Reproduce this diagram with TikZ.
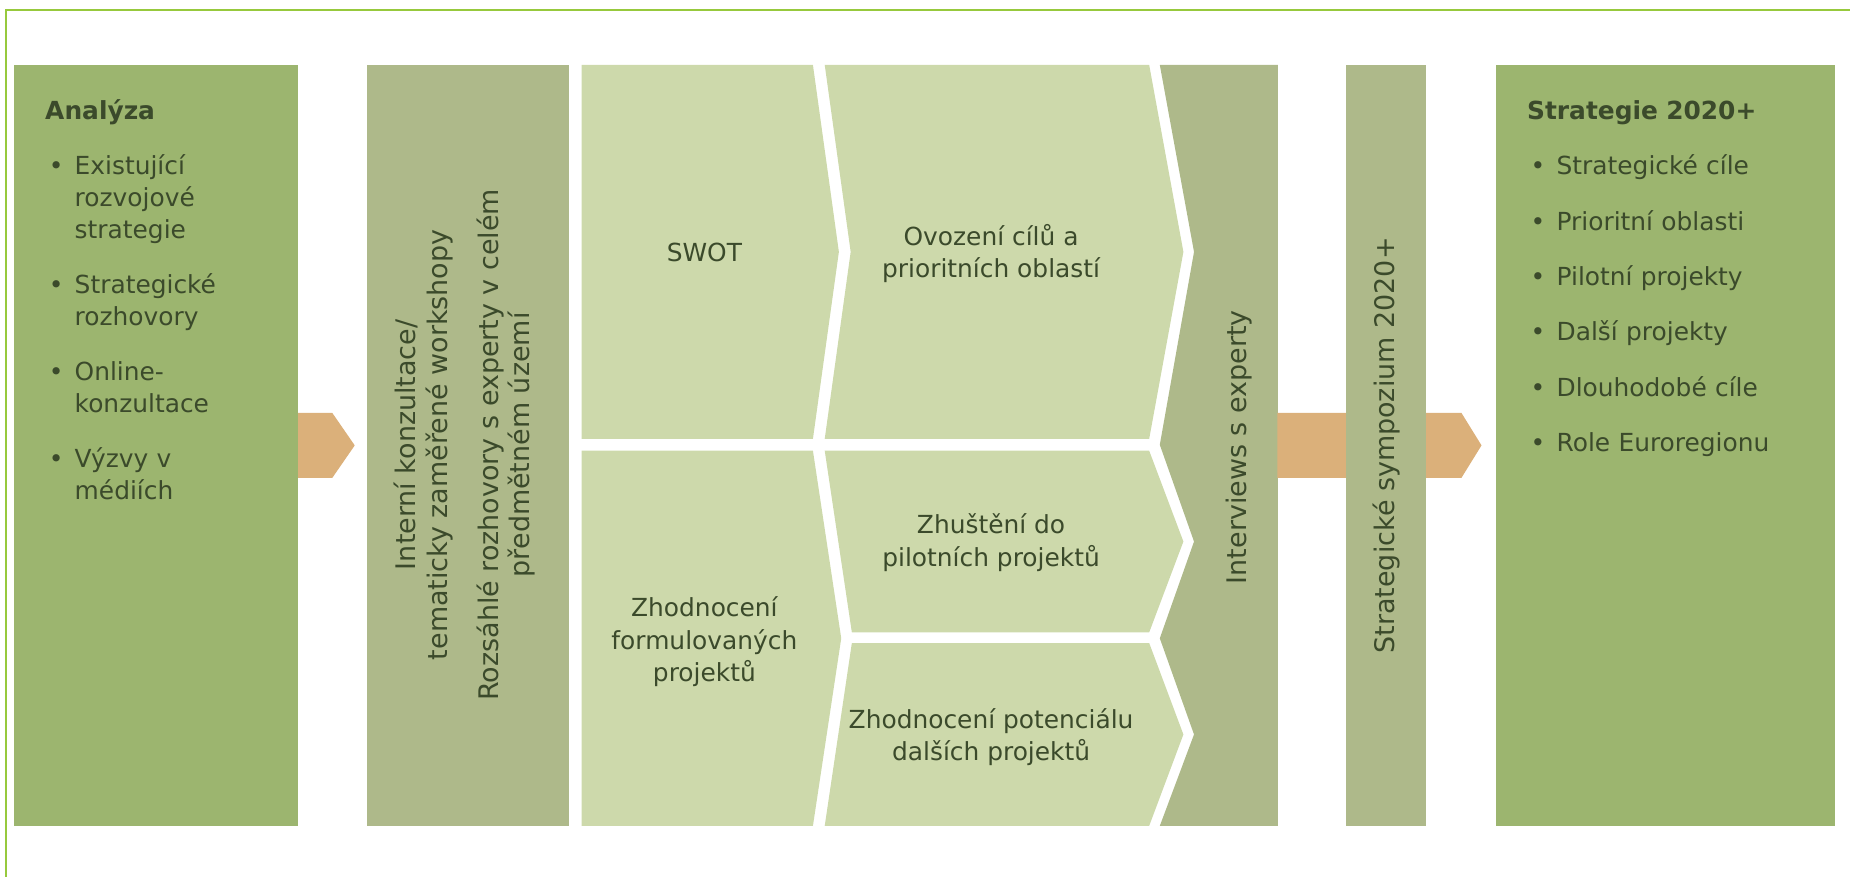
\documentclass[tikz,border=0pt]{standalone}
\usepackage{fontspec}
\setmainfont{DejaVu Sans}
\definecolor{framegreen}{HTML}{97C93D}
\definecolor{boxgreen}{HTML}{9CB56F}
\definecolor{boxolive}{HTML}{AEB98A}
\definecolor{panelgreen}{HTML}{CDD9AB}
\definecolor{arrowtan}{HTML}{DBB07A}
\definecolor{inkgreen}{HTML}{3B4A2B}
\newcommand{\bitem}[1]{\par\vspace{0.4cm}\noindent\hangindent=0.5cm\hangafter=1\makebox[0.5cm][l]{\hspace{0.06cm}\textbullet}#1}
\tikzset{
	colbox/.style={minimum height=12.9cm, inner sep=0pt},
	greenbox/.style={colbox, fill=boxgreen},
	olivebox/.style={colbox, fill=boxolive},
	panel/.style={fill=panelgreen},
	tanarrow/.style={fill=arrowtan},
	htext/.style={text=inkgreen, align=center, font=\fontsize{12}{15.6}\selectfont},
	vtext/.style={text=inkgreen, align=center, rotate=90, font=\fontsize{13}{15.3}\selectfont},
	listtext/.style={text=inkgreen, anchor=north west, inner sep=0pt, text width=5.2cm, font=\fontsize{12}{15.3}\selectfont}
}
\begin{document}
\begin{tikzpicture}[x=0.02cm, y=-0.02cm]
	\useasboundingbox (0,0) rectangle (1568,743);
	\draw[framegreen, line width=0.04cm] (5,743) -- (5,8.5) -- (1568,8.5);

	\node[greenbox, minimum width=4.82cm] (ana) at (132.5,377.5) {};
	\node[olivebox, minimum width=3.42cm] (konz) at (396.5,377.5) {};
	\fill[tanarrow] (konz.west) ++(-10,0) -- ++(-19,-27.5) -- ++(-29,0) -- ++(0,55) -- ++(29,0) -- cycle;

	\fill[panel] (493,55) -- (689,55) -- (711,213.5) -- (689,372) -- (493,372) -- cycle;
	\fill[panel] (699,55) -- (974,55) -- (1003,213.5) -- (974,372) -- (699,372) -- (721,213.5) -- cycle;
	\fill[panel] (493,382) -- (689,382) -- (713,541) -- (689,700) -- (493,700) -- cycle;
	\fill[panel] (699,382) -- (974,382) -- (1003,459) -- (974,536) -- (722,536) -- cycle;
	\fill[panel] (722,545) -- (974,545) -- (1003,622.5) -- (974,700) -- (699,700) -- cycle;
	\fill[boxolive] (983,55) -- (1083,55) -- (1083,700) -- (983,700) -- (1012,622.5) -- (983,541)
		-- (1012,459) -- (983,377) -- (1012,213.5) -- cycle;

	\node[greenbox, minimum width=5.74cm] (strat) at (1411.5,377.5) {};
	\fill[tanarrow] (strat.west) ++(-12,0) -- ++(-17,-27.5) -- ++(-156,0) -- ++(0,55) -- ++(156,0) -- cycle;
	\node[olivebox, minimum width=1.36cm] (symp) at (1175,377.5) {};

	\node[listtext] (analist) at (38,84) {{\bfseries Analýza}
		\bitem{Existující\newline rozvojové\newline strategie}
		\bitem{Strategické\newline rozhovory}
		\bitem{Online-\newline konzultace}
		\bitem{Výzvy v\newline médiích}\par};
	\node[listtext] (stratlist) at (1294,85) {{\bfseries Strategie 2020+}
		\bitem{Strategické cíle}
		\bitem{Prioritní oblasti}
		\bitem{Pilotní projekty}
		\bitem{Další projekty}
		\bitem{Dlouhodobé cíle}
		\bitem{Role Euroregionu}\par};

	\node[vtext] (konztxt) at (394,377) {Interní konzultace/\\tematicky zaměřené workshopy\\[0.32cm]Rozsáhlé rozhovory s experty v celém\\předmětném území};
	\node[htext] (swot) at (597,214) {SWOT};
	\node[htext] (ovoz) at (840,215) {Ovození cílů a\\prioritních oblastí};
	\node[htext] (zhform) at (597,544) {Zhodnocení\\formulovaných\\projektů};
	\node[htext] (zhust) at (840,460) {Zhuštění do\\pilotních projektů};
	\node[htext] (zhpot) at (840,625) {Zhodnocení potenciálu\\dalších projektů};
	\node[vtext] (intv) at (1050,379) {Interviews s experty};
	\node[vtext] (symptxt) at (symp) {Strategické sympozium 2020+};
\end{tikzpicture}
\end{document}
